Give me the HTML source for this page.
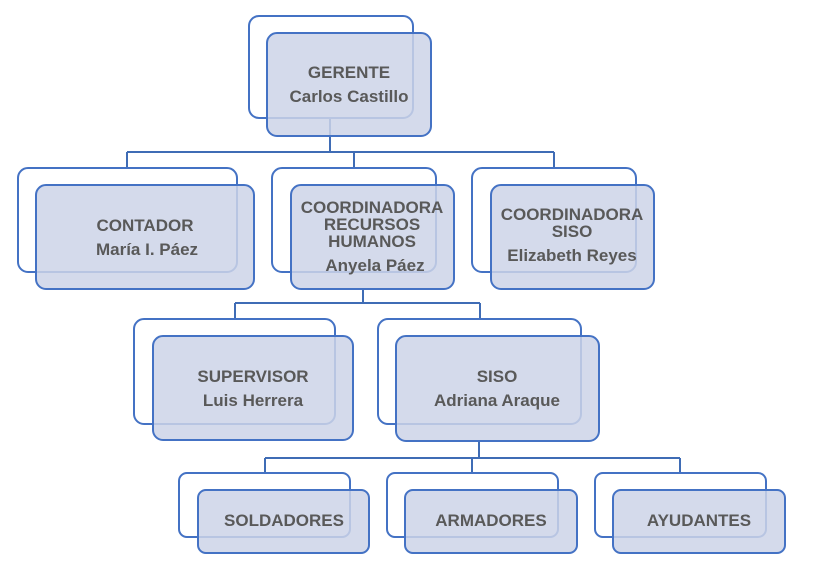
<!DOCTYPE html>
<html><head><meta charset="utf-8"><style>
html,body{margin:0;padding:0;background:#fff;}
svg{display:block;}
text{font-family:"Liberation Sans",Arial,sans-serif;font-weight:bold;font-size:17px;fill:#595959;text-anchor:middle;}
</style></head><body>
<svg width="818" height="582" viewBox="0 0 818 582" xmlns="http://www.w3.org/2000/svg">
<g fill="none" stroke="#3f6cb5" stroke-width="2">
<path d="M330 118V152M127 152H554M127 152V168M354 152V168M554 152V168"/>
<path d="M363 289V303M235 303H480M235 303V319M480 303V319"/>
<path d="M479 441V458M265 458H680M265 458V473M472 458V473M680 458V473"/>
</g>
<g stroke="#4472c4" stroke-width="2">
<rect x="249" y="16" width="164" height="102" rx="10" fill="#fff"/>
<rect x="267" y="33" width="164" height="103" rx="10" fill="#ccd3e8" fill-opacity="0.85"/>
<rect x="18" y="168" width="219" height="104" rx="10" fill="#fff"/>
<rect x="36" y="185" width="218" height="104" rx="10" fill="#ccd3e8" fill-opacity="0.85"/>
<rect x="272" y="168" width="164" height="104" rx="10" fill="#fff"/>
<rect x="291" y="185" width="163" height="104" rx="10" fill="#ccd3e8" fill-opacity="0.85"/>
<rect x="472" y="168" width="164" height="104" rx="10" fill="#fff"/>
<rect x="491" y="185" width="163" height="104" rx="10" fill="#ccd3e8" fill-opacity="0.85"/>
<rect x="134" y="319" width="201" height="105" rx="10" fill="#fff"/>
<rect x="153" y="336" width="200" height="104" rx="10" fill="#ccd3e8" fill-opacity="0.85"/>
<rect x="378" y="319" width="203" height="105" rx="10" fill="#fff"/>
<rect x="396" y="336" width="203" height="105" rx="10" fill="#ccd3e8" fill-opacity="0.85"/>
<rect x="179" y="473" width="171" height="64" rx="8" fill="#fff"/>
<rect x="198" y="490" width="171" height="63" rx="8" fill="#ccd3e8" fill-opacity="0.85"/>
<rect x="387" y="473" width="171" height="64" rx="8" fill="#fff"/>
<rect x="405" y="490" width="172" height="63" rx="8" fill="#ccd3e8" fill-opacity="0.85"/>
<rect x="595" y="473" width="171" height="64" rx="8" fill="#fff"/>
<rect x="613" y="490" width="172" height="63" rx="8" fill="#ccd3e8" fill-opacity="0.85"/>
</g>
<text x="349" y="78">GERENTE</text>
<text x="349" y="102">Carlos Castillo</text>
<text x="145" y="231">CONTADOR</text>
<text x="147" y="255">María I. Páez</text>
<text x="372" y="213">COORDINADORA</text>
<text x="372" y="230">RECURSOS</text>
<text x="372" y="247">HUMANOS</text>
<text x="375" y="271">Anyela  Páez</text>
<text x="572" y="220">COORDINADORA</text>
<text x="572" y="237">SISO</text>
<text x="572" y="261">Elizabeth Reyes</text>
<text x="253" y="382">SUPERVISOR</text>
<text x="253" y="406">Luis  Herrera</text>
<text x="497" y="382">SISO</text>
<text x="497" y="406">Adriana  Araque</text>
<text x="284" y="526">SOLDADORES</text>
<text x="491" y="526">ARMADORES</text>
<text x="699" y="526">AYUDANTES</text>
</svg>
</body></html>
